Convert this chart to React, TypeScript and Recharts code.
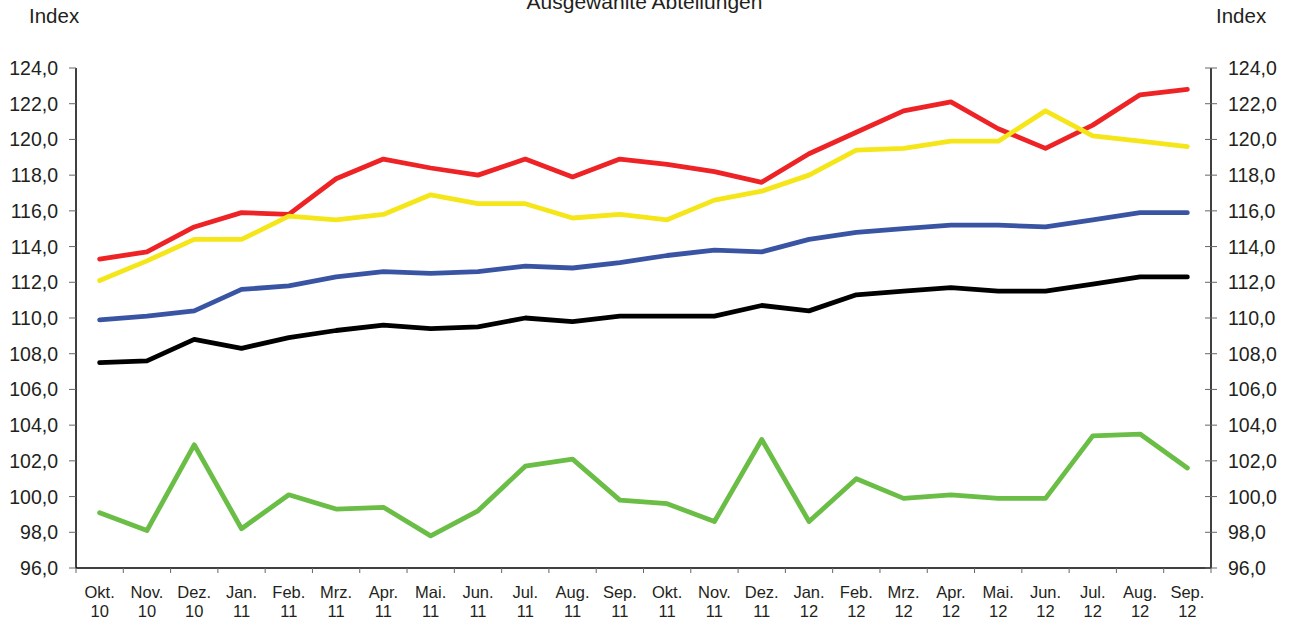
import { LineChart, Line, XAxis, YAxis } from "recharts";

const months = [
  "Okt.|10", "Nov.|10", "Dez.|10", "Jan.|11", "Feb.|11", "Mrz.|11", "Apr.|11", "Mai.|11",
  "Jun.|11", "Jul.|11", "Aug.|11", "Sep.|11", "Okt.|11", "Nov.|11", "Dez.|11", "Jan.|12",
  "Feb.|12", "Mrz.|12", "Apr.|12", "Mai.|12", "Jun.|12", "Jul.|12", "Aug.|12", "Sep.|12",
];

const redValues = [
  113.3, 113.7, 115.1, 115.9, 115.8, 117.8, 118.9, 118.4, 118.0, 118.9, 117.9, 118.9,
  118.6, 118.2, 117.6, 119.2, 120.4, 121.6, 122.1, 120.6, 119.5, 120.8, 122.5, 122.8,
];
const yellowValues = [
  112.1, 113.2, 114.4, 114.4, 115.7, 115.5, 115.8, 116.9, 116.4, 116.4, 115.6, 115.8,
  115.5, 116.6, 117.1, 118.0, 119.4, 119.5, 119.9, 119.9, 121.6, 120.2, 119.9, 119.6,
];
const blueValues = [
  109.9, 110.1, 110.4, 111.6, 111.8, 112.3, 112.6, 112.5, 112.6, 112.9, 112.8, 113.1,
  113.5, 113.8, 113.7, 114.4, 114.8, 115.0, 115.2, 115.2, 115.1, 115.5, 115.9, 115.9,
];
const blackValues = [
  107.5, 107.6, 108.8, 108.3, 108.9, 109.3, 109.6, 109.4, 109.5, 110.0, 109.8, 110.1,
  110.1, 110.1, 110.7, 110.4, 111.3, 111.5, 111.7, 111.5, 111.5, 111.9, 112.3, 112.3,
];
const greenValues = [
  99.1, 98.1, 102.9, 98.2, 100.1, 99.3, 99.4, 97.8, 99.2, 101.7, 102.1, 99.8,
  99.6, 98.6, 103.2, 98.6, 101.0, 99.9, 100.1, 99.9, 99.9, 103.4, 103.5, 101.6,
];

const yTicks = [96, 98, 100, 102, 104, 106, 108, 110, 112, 114, 116, 118, 120, 122, 124];

const chartData = months.map((m, i) => ({
  i,
  red: redValues[i],
  yellow: yellowValues[i],
  blue: blueValues[i],
  black: blackValues[i],
  green: greenValues[i],
}));

// label ticks at every month, tick marks on the month boundaries
const xTicks: number[] = [];
for (let k = 0; k <= months.length; k++) {
  xTicks.push(k - 0.5);
  if (k < months.length) xTicks.push(k);
}

const FONT = '"Liberation Sans", Arial, sans-serif';
const fmt = (v: number) => v.toFixed(1).replace(".", ",");

const MonthTick = ({ x, y, payload }: any) => {
  const v = Number(payload.value);
  if (!Number.isInteger(v)) {
    return <line x1={x} x2={x} y1={y} y2={y + 5} stroke="#666" strokeWidth={1} />;
  }
  const [mon, yr] = months[v].split("|");
  return (
    <g>
      <text x={x} y={y + 30} textAnchor="middle" fontSize={16.5} fill="#231f20" fontFamily={FONT}>
        {mon}
      </text>
      <text x={x} y={y + 49} textAnchor="middle" fontSize={16.5} fill="#231f20" fontFamily={FONT}>
        {yr}
      </text>
    </g>
  );
};

const LeftTick = ({ x, y, payload }: any) => (
  <g>
    <line x1={x - 7} x2={x} y1={y} y2={y} stroke="#666" strokeWidth={1} />
    <text x={x - 18} y={y + 7} textAnchor="end" fontSize={19.5} fill="#231f20" fontFamily={FONT}>
      {fmt(payload.value)}
    </text>
  </g>
);

const RightTick = ({ x, y, payload }: any) => (
  <g>
    <line x1={x - 6} x2={x + 6} y1={y} y2={y} stroke="#666" strokeWidth={1} />
    <text x={x + 17} y={y + 7} textAnchor="start" fontSize={19.5} fill="#231f20" fontFamily={FONT}>
      {fmt(payload.value)}
    </text>
  </g>
);

const lineProps = {
  type: "linear" as const,
  strokeWidth: 4.8,
  dot: false,
  activeDot: false,
  strokeLinecap: "round" as const,
  strokeLinejoin: "round" as const,
  isAnimationActive: false,
};

export default function App() {
  return (
    <div style={{ position: "absolute", left: 0, top: 0, width: 1293, height: 625, background: "#fff", fontFamily: FONT }}>
      <div style={{ position: "absolute", left: 0, width: 1289, top: -10, lineHeight: "24px", textAlign: "center", fontSize: 21, color: "#231f20" }}>
        Ausgewählte Abteilungen
      </div>
      <div style={{ position: "absolute", left: 29, top: 4, fontSize: 20.5, color: "#231f20" }}>Index</div>
      <div style={{ position: "absolute", left: 1216, top: 4, fontSize: 20.5, color: "#231f20" }}>Index</div>
      <LineChart width={1293} height={625} data={chartData} margin={{ top: 68, right: 0, bottom: 0, left: 0 }}>
        <XAxis
          dataKey="i"
          type="number"
          domain={[-0.5, 23.5]}
          ticks={xTicks}
          interval={0}
          tick={<MonthTick />}
          tickLine={false}
          tickSize={0}
          tickMargin={0}
          height={57}
          axisLine={{ stroke: "#000", strokeWidth: 1.5 }}
        />
        <YAxis
          yAxisId="left"
          domain={[96, 124]}
          ticks={yTicks}
          interval={0}
          width={76}
          tick={<LeftTick />}
          tickLine={false}
          tickSize={0}
          tickMargin={0}
          axisLine={{ stroke: "#000", strokeWidth: 1.5 }}
        />
        <YAxis
          yAxisId="right"
          orientation="right"
          domain={[96, 124]}
          ticks={yTicks}
          interval={0}
          width={82}
          tick={<RightTick />}
          tickLine={false}
          tickSize={0}
          tickMargin={0}
          axisLine={{ stroke: "#000", strokeWidth: 1.5 }}
        />
        <Line yAxisId="right" dataKey="green" stroke="#6abd45" {...lineProps} />
        <Line yAxisId="left" dataKey="black" stroke="#000000" {...lineProps} />
        <Line yAxisId="left" dataKey="blue" stroke="#3a54a4" {...lineProps} />
        <Line yAxisId="left" dataKey="red" stroke="#ee2326" {...lineProps} />
        <Line yAxisId="left" dataKey="yellow" stroke="#f5e619" {...lineProps} />
      </LineChart>
    </div>
  );
}
